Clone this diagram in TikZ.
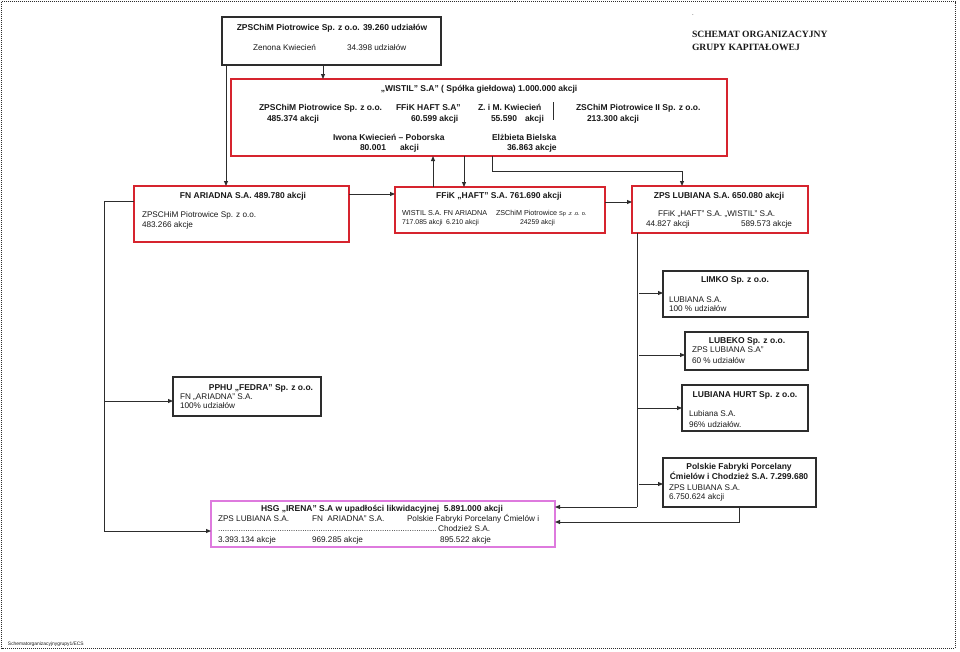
\documentclass[tikz,border=0pt]{standalone}
\usepackage{fontspec}
\setmainfont{Liberation Sans}
\newfontfamily\serifb{Liberation Serif}
\usetikzlibrary{arrows.meta,calc}
\definecolor{boxred}{RGB}{214,36,46}
\definecolor{boxmag}{RGB}{222,122,222}
\definecolor{linec}{RGB}{45,45,45}
\definecolor{txtc}{RGB}{25,25,25}
\tikzset{
  box/.style={draw=linec, line width=1.1pt, inner sep=0pt, outer sep=0pt},
  redbox/.style={draw=boxred, line width=1.3pt, inner sep=0pt, outer sep=0pt},
  magbox/.style={draw=boxmag, line width=1.3pt, inner sep=0pt, outer sep=0pt},
  txt/.style={inner sep=0pt, outer sep=0pt, text=txtc, font=\fontsize{8.2}{9.5}\selectfont, anchor=base west},
  stxt/.style={txt, font=\fontsize{7.2}{8}\selectfont},
  sstxt/.style={txt, font=\fontsize{6.9}{8}\selectfont},
  btxt/.style={txt, font=\fontsize{8.5}{10}\selectfont\bfseries},
  ttl/.style={btxt, anchor=base},
  con/.style={draw=linec, line width=0.9pt, -{Triangle[length=5pt,width=4pt]}},
  plain/.style={draw=linec, line width=0.9pt},
}
\begin{document}
\begin{tikzpicture}[x=1pt,y=-1pt]
\useasboundingbox (0,0) rectangle (960,651);
\draw[draw=linec, line width=0.8pt, dash pattern=on 1pt off 1pt] (1.5,1.5) rectangle (955,648);

% boxes
\node[box, minimum width=219pt, minimum height=48pt] (zps) at (331.5,41) {};
\node[redbox, minimum width=496pt, minimum height=77pt] (wistil) at (479,117.5) {};
\node[redbox, minimum width=215pt, minimum height=56pt] (ariadna) at (241.5,214) {};
\node[redbox, minimum width=210pt, minimum height=46pt] (haft) at (500,210) {};
\node[redbox, minimum width=176pt, minimum height=47pt] (lubiana) at (720,209.5) {};
\node[box, minimum width=145pt, minimum height=46pt] (limko) at (735.5,294) {};
\node[box, minimum width=123pt, minimum height=38pt] (lubeko) at (746.5,351) {};
\node[box, minimum width=126pt, minimum height=46pt] (hurt) at (745,408) {};
\node[box, minimum width=153pt, minimum height=49pt] (pfp) at (739.5,482.5) {};
\node[box, minimum width=148pt, minimum height=39pt] (fedra) at (247,396.5) {};
\node[magbox, minimum width=344pt, minimum height=46pt] (irena) at (383,524) {};

% title
\node[txt, font=\fontsize{6}{7}\selectfont] (dot) at (692,15) {.};
\node[txt, font=\serifb\fontsize{9.6}{11}\bfseries] (sch1) at (692,37.5) {SCHEMAT ORGANIZACYJNY};
\node[txt, font=\serifb\fontsize{9.6}{11}\bfseries] (sch2) at (692,50.5) {GRUPY KAPITAŁOWEJ};
\node[txt, font=\fontsize{4.9}{5}\selectfont] (foot) at (8,645) {Schematorganizacyjnygrupy1/ECS};

% zps texts
\node[ttl] (zpsT) at (332,30) {ZPSChiM Piotrowice Sp. z o.o. 39.260 udziałów};
\node[txt] (zps1) at (253,50) {Zenona Kwiecień};
\node[txt] (zps2) at (347,50) {34.398 udziałów};

% wistil texts
\node[ttl] (wT) at (479,91) {„WISTIL” S.A” ( Spółka giełdowa) 1.000.000 akcji};
\node[btxt] (w1) at (259,110) {ZPSChiM Piotrowice Sp. z o.o.};
\node[btxt] (w1b) at (267,121) {485.374 akcji};
\node[btxt] (w2) at (396,110) {FFiK HAFT S.A”};
\node[btxt] (w2b) at (411,121) {60.599 akcji};
\node[btxt] (w3) at (478,110) {Z. i M. Kwiecień};
\node[btxt] (w3b) at (491,121) {55.590};
\node[btxt] (w3c) at (525,121) {akcji};
\draw[draw=linec, line width=0.8pt] (553,102) -- (553,120);
\node[btxt] (w4) at (576,110) {ZSChiM Piotrowice II Sp. z o.o.};
\node[btxt] (w4b) at (587,121) {213.300 akcji};
\node[btxt] (w5) at (333,140) {Iwona Kwiecień – Poborska};
\node[btxt] (w5b) at (360,150) {80.001};
\node[btxt] (w5c) at (400,150) {akcji};
\node[btxt] (w6) at (492,140) {Elżbieta Bielska};
\node[btxt] (w6b) at (507,150) {36.863 akcje};

% ariadna texts
\node[ttl] (aT) at (243,198) {FN ARIADNA S.A. 489.780 akcji};
\node[txt] (a1t) at (142,217) {ZPSCHiM Piotrowice Sp. z o.o.};
\node[txt] (a2t) at (142,227) {483.266 akcje};

% haft texts
\node[ttl] (hT) at (499,198) {FFiK „HAFT” S.A. 761.690 akcji};
\node[stxt] (h1) at (402,215.5) {WISTIL S.A.};
\node[stxt] (h2) at (443.5,215.5) {FN ARIADNA};
\node[stxt] (h3) at (496,215.5) {ZSChiM Piotrowice {\fontsize{5.6}{6}\selectfont Sp .z .o. o.}};
\node[sstxt] (h4) at (402,224.5) {717.085 akcji};
\node[sstxt] (h5) at (446,224.5) {6.210 akcji};
\node[sstxt] (h6) at (520,224.5) {24259 akcji};

% lubiana texts
\node[ttl] (lT) at (719,198) {ZPS LUBIANA S.A. 650.080 akcji};
\node[txt] (l1) at (658,216) {FFiK „HAFT” S.A. „WISTIL” S.A.};
\node[txt] (l2) at (646,226) {44.827 akcji};
\node[txt] (l3) at (741,226) {589.573 akcje};

% limko
\node[ttl] (limT) at (735,282) {LIMKO Sp. z o.o.};
\node[txt] (lim1) at (669,302) {LUBIANA S.A.};
\node[txt] (lim2) at (669,311) {100 \% udziałów};

% lubeko
\node[ttl] (lubT) at (747,343) {LUBEKO Sp. z o.o.};
\node[txt] (lub1) at (692,352) {ZPS LUBIANA S.A”};
\node[txt] (lub2) at (692,363) {60 \% udziałów};

% hurt
\node[ttl] (huT) at (745,397) {LUBIANA HURT Sp. z o.o.};
\node[txt] (hu1) at (689,416) {Lubiana S.A.};
\node[txt] (hu2) at (689,427) {96\% udziałów.};

% pfp
\node[ttl] (pT1) at (739,469) {Polskie Fabryki Porcelany};
\node[ttl] (pT2) at (739,479) {Ćmielów i Chodzież S.A. 7.299.680};
\node[txt] (p1t) at (669,490) {ZPS LUBIANA S.A.};
\node[txt] (p2t) at (669,499) {6.750.624 akcji};

% fedra
\node[ttl] (fT) at (261,390) {PPHU „FEDRA” Sp. z o.o.};
\node[txt] (f1) at (180,399) {FN „ARIADNA” S.A.};
\node[txt] (f2) at (180,408) {100\% udziałów};

% irena
\node[ttl] (iT) at (382,511) {HSG „IRENA” S.A w upadłości likwidacyjnej \ 5.891.000 akcji};
\node[txt] (i1) at (218,521) {ZPS LUBIANA S.A.};
\node[txt] (i2) at (312,521) {FN \ ARIADNA” S.A.};
\node[txt] (i3) at (407,521) {Polskie Fabryki Porcelany Ćmielów i};
\node[txt] (i4) at (218,531) {\hbox to 220pt{\leaders\hbox{.}\hfill}Chodzież S.A.};
\node[txt] (i5) at (218,542) {3.393.134 akcje};
\node[txt] (i6) at (312,542) {969.285 akcje};
\node[txt] (i7) at (440,542) {895.522 akcje};

% connectors
\coordinate (c1) at ($(zps.south west)+(4,0)$);
\draw[con] (c1) -- (c1 |- ariadna.north);
\coordinate (c2) at (323,0);
\draw[con] (c2 |- zps.south) -- (c2 |- wistil.north);
\coordinate (c3) at (464,0);
\draw[con] (c3 |- wistil.south) -- (c3 |- haft.north);
\coordinate (c4) at (433,0);
\draw[con] (c4 |- haft.north) -- (c4 |- wistil.south);
\coordinate (c5) at (492,171);
\coordinate (c6) at (682,171);
\draw[con] (c5 |- wistil.south) -- (c5) -- (c6) -- (c6 |- lubiana.north);
\coordinate (c7) at (0,194);
\draw[con] (c7 -| ariadna.east) -- (c7 -| haft.west);
\coordinate (c8) at (0,202);
\draw[con] (c8 -| haft.east) -- (c8 -| lubiana.west);

\coordinate (b1) at (104,201);
\coordinate (b2) at (104,531);
\coordinate (b3) at (104,401);
\draw[plain] (b1 -| ariadna.west) -- (b1) -- (b2);
\draw[con] (b2) -- (b2 -| irena.west);
\draw[con] (b3) -- (b3 -| fedra.west);

\coordinate (r1) at (637,0);
\coordinate (r2) at (637,507);
\draw[plain] (r1 |- lubiana.south) -- (r2);
\draw[con] (r2) -- (r2 -| irena.east);
\coordinate (r3) at (639,293);
\draw[con] (r3) -- (r3 -| limko.west);
\coordinate (r4) at (639,355);
\draw[con] (r4) -- (r4 -| lubeko.west);
\coordinate (r5) at (637,408);
\draw[con] (r5) -- (r5 -| hurt.west);
\coordinate (r6) at (639,484);
\draw[con] (r6) -- (r6 -| pfp.west);
\coordinate (p1) at (739,522);
\draw[con] (p1 |- pfp.south) -- (p1) -- (p1 -| irena.east);
\end{tikzpicture}
\end{document}
